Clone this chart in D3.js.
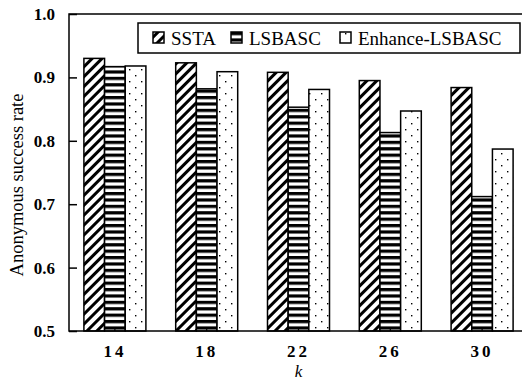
<!DOCTYPE html>
<html>
<head>
<meta charset="utf-8">
<script src="https://d3js.org/d3.v7.min.js"></script>
<style>
  body { margin: 0; background: #fff; }
  text { font-family: 'Liberation Serif', 'Times New Roman', serif; fill: #000; }
</style>
</head>
<body>
<div id="chart"></div>
<script>
const categories = ["14", "18", "22", "26", "30"];
const seriesNames = ["SSTA", "LSBASC", "Enhance-LSBASC"];
const ssta = [0.930, 0.923, 0.908, 0.895, 0.884];
const lsbasc = [0.917, 0.882, 0.853, 0.813, 0.712];
const enhance = [0.918, 0.909, 0.881, 0.847, 0.787];
const yTicks = [0.5, 0.6, 0.7, 0.8, 0.9, 1.0];

const W = 522, H = 381;
const margin = { top: 14, right: -6, bottom: 50, left: 69 };

const svg = d3.select("#chart").append("svg")
  .attr("width", W).attr("height", H);

// patterns
const defs = svg.append("defs");
const diag = defs.append("pattern").attr("id", "p-diag")
  .attr("patternUnits", "userSpaceOnUse").attr("width", 7).attr("height", 7)
  .attr("patternTransform", "rotate(45)");
diag.append("rect").attr("width", 7).attr("height", 7).attr("fill", "#fff");
diag.append("rect").attr("x", 0).attr("width", 3).attr("height", 7).attr("fill", "#000");

const horiz = defs.append("pattern").attr("id", "p-horiz")
  .attr("patternUnits", "userSpaceOnUse").attr("width", 6.4).attr("height", 6.4);
horiz.append("rect").attr("width", 6.4).attr("height", 6.4).attr("fill", "#fff");
horiz.append("rect").attr("y", 0).attr("width", 6.4).attr("height", 3.2).attr("fill", "#000");

const dots = defs.append("pattern").attr("id", "p-dots")
  .attr("patternUnits", "userSpaceOnUse").attr("width", 12).attr("height", 12);
dots.append("rect").attr("width", 12).attr("height", 12).attr("fill", "#fff");
dots.append("rect").attr("x", 3).attr("y", 3).attr("width", 1.4).attr("height", 1.4).attr("fill", "#000");
dots.append("rect").attr("x", 9).attr("y", 9).attr("width", 1.4).attr("height", 1.4).attr("fill", "#000");

const fills = ["url(#p-diag)", "url(#p-horiz)", "url(#p-dots)"];
const series = [ssta, lsbasc, enhance];

const x0 = d3.scaleBand().domain(categories)
  .range([margin.left, W - margin.right]).paddingInner(0).paddingOuter(0);
const x1 = d3.scaleBand().domain(seriesNames)
  .range([0, 62]);
const y = d3.scaleLinear().domain([0.5, 1.0]).range([H - margin.bottom, margin.top]);

const x0Off = (x0.bandwidth() - 62) / 2;

// bars
seriesNames.forEach((s, si) => {
  svg.append("g").selectAll("rect")
    .data(categories)
    .join("rect")
    .attr("x", (c) => x0(c) + x0Off + x1(s))
    .attr("y", (c, i) => y(series[si][i]))
    .attr("width", x1.bandwidth())
    .attr("height", (c, i) => y(0.5) - y(series[si][i]))
    .attr("fill", fills[si])
    .attr("stroke", "#000")
    .attr("stroke-width", 1.5);
});

// frame
svg.append("rect")
  .attr("x", margin.left).attr("y", margin.top)
  .attr("width", W - margin.right - margin.left)
  .attr("height", y(0.5) - margin.top)
  .attr("fill", "none").attr("stroke", "#000").attr("stroke-width", 1.5);

// y axis
const yAxis = svg.append("g")
  .attr("transform", `translate(${margin.left},0)`)
  .call(d3.axisLeft(y).tickValues(yTicks).tickFormat(d3.format(".1f")).tickSizeInner(-8).tickSizeOuter(0).tickPadding(14));
yAxis.select(".domain").remove();
yAxis.selectAll("line").attr("stroke", "#000").attr("stroke-width", 1.5);
yAxis.selectAll("text")
  .style("font-family", "'Liberation Serif', serif")
  .style("font-size", "17px").style("font-weight", "bold");

// x axis
const xAxis = svg.append("g")
  .attr("transform", `translate(0,${y(0.5)})`)
  .call(d3.axisBottom(x0).tickSizeInner(-4).tickSizeOuter(0).tickPadding(14));
xAxis.select(".domain").remove();
xAxis.selectAll("line").attr("stroke", "#000").attr("stroke-width", 1.2);
xAxis.selectAll("text")
  .style("font-family", "'Liberation Serif', serif")
  .style("font-size", "17px").style("font-weight", "bold")
  .style("letter-spacing", "3px");

// axis titles
svg.append("text")
  .attr("x", x0("22") + x0.bandwidth() / 2).attr("y", 377)
  .attr("text-anchor", "middle")
  .style("font-size", "17px").style("font-style", "italic")
  .text("k");

svg.append("text")
  .attr("transform", `translate(23,185) rotate(-90)`)
  .attr("text-anchor", "middle")
  .style("font-size", "18.5px")
  .text("Anonymous success rate");

// legend
const legend = svg.append("g");
legend.append("rect")
  .attr("x", 138).attr("y", 23).attr("width", 382).attr("height", 30)
  .attr("fill", "#fff").attr("stroke", "#000").attr("stroke-width", 1.5);
const legX = [153, 231, 340];
seriesNames.forEach((s, i) => {
  legend.append("rect")
    .attr("x", legX[i]).attr("y", 32).attr("width", 11).attr("height", 11)
    .attr("fill", fills[i]).attr("stroke", "#000").attr("stroke-width", 1.5);
  legend.append("text")
    .attr("x", legX[i] + 18).attr("y", 44.5)
    .style("font-size", "19px")
    .text(s);
});
</script>
</body>
</html>
